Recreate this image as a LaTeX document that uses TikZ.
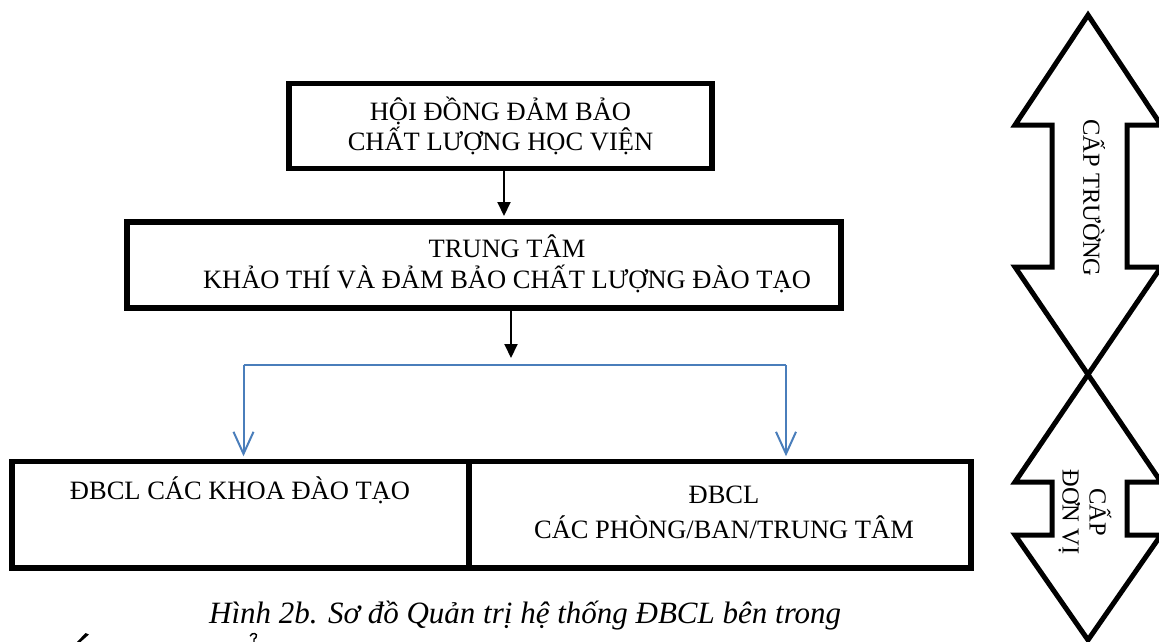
\documentclass[tikz,border=0pt]{standalone}
\usepackage{fontspec}
\setmainfont{Liberation Serif}
\usetikzlibrary{arrows.meta}
\definecolor{linkblue}{RGB}{74,126,187}
\begin{document}
\begin{tikzpicture}[x=1pt,y=-1pt,
  box/.style={draw, line width=5.5pt, inner sep=0pt, align=center,
    font=\fontsize{26.5}{30.5}\selectfont},
  lbl/.style={inner sep=0pt, align=center, font=\fontsize{26.5}{30.5}\selectfont},
  flow/.style={line width=2pt, -{Triangle[length=14pt,width=13pt]}},
  branch/.style={draw=linkblue, line width=2pt},
  branchto/.style={branch, -{Straight Barb[length=22pt,width=20pt]}},
  levelarrow/.style={line width=5pt, line join=miter},
  sidetext/.style={inner sep=0pt, align=center, rotate=-90,
    font=\fontsize{24.5}{27}\selectfont}
]
\useasboundingbox (0,0) rectangle (1159,642);

% council and centre
\node[box, minimum width=423pt, minimum height=85pt] (council) at (500.5,126)
  {HỘI ĐỒNG ĐẢM BẢO\\CHẤT LƯỢNG HỌC VIỆN};
\node[box, line width=6pt, minimum width=714pt, minimum height=86pt] (centre) at (484,264.5) {};
\node[lbl] (centretext) at (507,264) {TRUNG TÂM\\KHẢO THÍ VÀ ĐẢM BẢO CHẤT LƯỢNG ĐÀO TẠO};

% unit level boxes
\node[box, minimum width=457pt, minimum height=106.5pt] (faculties) at (240.5,514.75) {};
\node[lbl, anchor=base] (facultiestext) at (240,499) {ĐBCL CÁC KHOA ĐÀO TẠO};
\node[box, minimum width=502pt, minimum height=106.5pt] (offices) at (720,514.75) {};
\node[lbl, font=\fontsize{26.5}{35}\selectfont] (officestext) at (724,512)
  {ĐBCL\\CÁC PHÒNG/BAN/TRUNG TÂM};

% connectors
\coordinate (colA) at (504,0);
\coordinate (colB) at (511,0);
\coordinate (split) at (511,358);
\coordinate (busL) at (243.5,365);
\coordinate (busR) at (786,365);
\draw[flow, shorten >=2.5pt] (council.south -| colA) -- (centre.north -| colA);
\draw[flow] (centre.south -| colB) -- (split);
\draw[branch] (busL) -- (busR);
\draw[branchto, shorten >=2.5pt] (busL) -- (faculties.north -| busL);
\draw[branchto, shorten >=2.5pt] (busR) -- (offices.north -| busR);

% level arrows on the right
\draw[levelarrow]
  (1015,267) -- (1052,267) -- (1052,125) -- (1015,125) -- (1088,15)
  -- (1161,125) -- (1127,125) -- (1127,267) -- (1161,267) -- (1015,482)
  -- (1052,482) -- (1052,535) -- (1015,535) -- (1088,640) -- (1161,535)
  -- (1127,535) -- (1127,482) -- (1161,482) -- cycle;
\node[sidetext] (schoollevel) at (1094,198) {CẤP TRƯỜNG};
\node[sidetext] (unitlevel) at (1085,512) {CẤP\\ĐƠN VỊ};

% caption
\node[inner sep=0pt, anchor=base west, font=\fontsize{31}{36}\selectfont\itshape]
  (caption) at (209,623) {Hình 2b. Sơ đồ Quản trị hệ thống ĐBCL bên trong};
% diacritics of the next caption line at the lower edge
\fill (77,642) -- (80.5,642) -- (89,634.5) -- (85.5,633) -- cycle;
\draw[line width=1.4pt] (250,636) .. controls (252,632) and (258.5,633) .. (256,637.5)
  -- (254,639) -- (254,642);
\end{tikzpicture}
\end{document}
